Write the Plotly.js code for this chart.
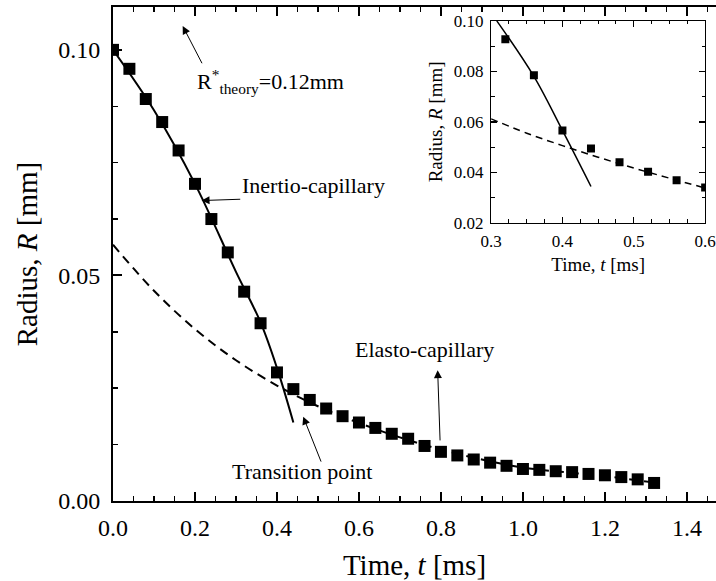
<!DOCTYPE html>
<html><head><meta charset="utf-8">
<script src="https://cdn.plot.ly/plotly-3.0.1.min.js"></script>
<style>html,body{margin:0;padding:0;background:#fff}</style>
</head><body><div id="chart" style="width:716px;height:581px"></div>
<script>
// Main data: measured radius vs time
const timeMain = [0.00,0.04,0.08,0.12,0.16,0.20,0.24,0.28,0.32,0.36,0.40,0.44,0.48,0.52,0.56,0.60,0.64,0.68,0.72,0.76,0.80,0.84,0.88,0.92,0.96,1.00,1.04,1.08,1.12,1.16,1.20,1.24,1.28,1.32];
const radiusMain = [0.1000,0.0958,0.0891,0.0840,0.0777,0.0703,0.0625,0.0551,0.0464,0.0394,0.0285,0.0248,0.0224,0.0205,0.0188,0.0174,0.0162,0.0149,0.0138,0.0122,0.0109,0.0101,0.0092,0.0085,0.0078,0.0071,0.0069,0.0066,0.0064,0.0060,0.0057,0.0053,0.0048,0.0040];
// Inertio-capillary fit (solid)
const inertioT = [0.00,0.10,0.20,0.30,0.36,0.40,0.44];
const inertioR = [0.1000,0.0866,0.0703,0.0508,0.0396,0.0295,0.0174];
// Elasto-capillary fit (dashed)
const elastoT = [0.0,0.1,0.2,0.3,0.4,0.5,0.6,0.7,0.8,0.9,1.0,1.1,1.2,1.32];
const elastoR = [0.0568,0.0466,0.0381,0.0312,0.0256,0.0210,0.0173,0.0141,0.0114,0.0092,0.0074,0.0064,0.0055,0.0041];
// Inset data
const timeInset = [0.32,0.36,0.40,0.44,0.48,0.52,0.56,0.60];
const radiusInset = [0.0927,0.0785,0.0566,0.0494,0.0440,0.0402,0.0369,0.0340];
const insetInertioT = [0.308,0.36,0.40,0.44];
const insetInertioR = [0.100,0.0780,0.0566,0.0344];
const insetElastoT = [0.30,0.35,0.40,0.45,0.50,0.55,0.60];
const insetElastoR = [0.0612,0.0555,0.0506,0.0460,0.0417,0.0377,0.0338];

const FONT = 'Liberation Serif, Times New Roman, serif';

const traces = [
  {x: elastoT, y: elastoR, mode:'lines', line:{color:'#000', width:2, dash:'9px,6px', shape:'spline'}, showlegend:false, hoverinfo:'skip'},
  {x: inertioT, y: inertioR, mode:'lines', line:{color:'#000', width:2, shape:'spline'}, showlegend:false, hoverinfo:'skip'},
  {x: timeMain, y: radiusMain, mode:'markers', marker:{symbol:'square', size:12, color:'#000'}, showlegend:false},
  {x: insetElastoT, y: insetElastoR, xaxis:'x2', yaxis:'y2', mode:'lines', line:{color:'#000', width:1.5, dash:'7px,5px', shape:'spline'}, showlegend:false, hoverinfo:'skip'},
  {x: insetInertioT, y: insetInertioR, xaxis:'x2', yaxis:'y2', mode:'lines', line:{color:'#000', width:1.5, shape:'spline'}, showlegend:false, hoverinfo:'skip'},
  {x: timeInset, y: radiusInset, xaxis:'x2', yaxis:'y2', mode:'markers', marker:{symbol:'square', size:8, color:'#000'}, showlegend:false}
];

const arrowBase = {xref:'x', yref:'y', axref:'x', ayref:'y', text:'', showarrow:true, arrowhead:2, arrowsize:1.6, arrowwidth:1, arrowcolor:'#000', standoff:0, startstandoff:0};
const textBase = {xref:'x', yref:'y', showarrow:false, xanchor:'left', yanchor:'middle', font:{family:FONT, size:22, color:'#000'}};

const layout = {
  width:716, height:581,
  margin:{l:113, r:0, t:7, b:80},
  paper_bgcolor:'#fff', plot_bgcolor:'#fff',
  font:{family:FONT, color:'#000'},
  xaxis:{
    range:[0,1.471], dtick:0.2, tick0:0, tickformat:'.1f',
    ticks:'inside', ticklen:9, tickwidth:2, tickcolor:'#000',
    showline:true, linewidth:2, linecolor:'#000', mirror:'ticks',
    minor:{ticks:'inside', dtick:0.05, ticklen:5, tickwidth:1.5, tickcolor:'#000'},
    showgrid:false, zeroline:false,
    tickfont:{family:FONT, size:24, color:'#000'},
    ticklabelstandoff:4,
    title:{text:'Time, <i>t</i> [ms]', font:{family:FONT, size:29, color:'#000'}, standoff:16}
  },
  yaxis:{
    range:[0,0.1095], dtick:0.05, tick0:0, tickformat:'.2f',
    ticks:'inside', ticklen:9, tickwidth:2, tickcolor:'#000',
    showline:true, linewidth:2, linecolor:'#000',
    minor:{ticks:'inside', dtick:0.0125, ticklen:5, tickwidth:1.5, tickcolor:'#000'},
    showgrid:false, zeroline:false,
    tickfont:{family:FONT, size:24, color:'#000'},
    ticklabelstandoff:6,
    title:{text:'Radius, <i>R</i> [mm]', font:{family:FONT, size:29, color:'#000'}, standoff:12}
  },
  xaxis2:{
    domain:[0.627,0.982], anchor:'y2',
    range:[0.3,0.6], dtick:0.1, tick0:0.3, tickformat:'.1f',
    ticks:'inside', ticklen:6, tickwidth:1.3, tickcolor:'#000',
    showline:true, linewidth:1.3, linecolor:'#000', mirror:'ticks',
    minor:{ticks:'inside', dtick:0.025, ticklen:3.5, tickwidth:1, tickcolor:'#000'},
    showgrid:false, zeroline:false,
    tickfont:{family:FONT, size:17, color:'#000'},
    ticklabelstandoff:2,
    title:{text:'Time, <i>t</i> [ms]', font:{family:FONT, size:19, color:'#000'}, standoff:8}
  },
  yaxis2:{
    domain:[0.563,0.972], anchor:'x2',
    range:[0.02,0.10], dtick:0.02, tick0:0.02, tickformat:'.2f',
    ticks:'inside', ticklen:6, tickwidth:1.3, tickcolor:'#000',
    showline:true, linewidth:1.3, linecolor:'#000', mirror:'ticks',
    minor:{ticks:'inside', dtick:0.01, ticklen:3.5, tickwidth:1, tickcolor:'#000'},
    showgrid:false, zeroline:false,
    tickfont:{family:FONT, size:17, color:'#000'},
    ticklabelstandoff:3,
    title:{text:'Radius, <i>R</i> [mm]', font:{family:FONT, size:19, color:'#000'}, standoff:6}
  },
  annotations:[
    Object.assign({}, arrowBase, {x:0.170, y:0.1053, ax:0.219, ay:0.0967}),
    Object.assign({}, arrowBase, {x:0.216, y:0.0666, ax:0.314, ay:0.0669}),
    Object.assign({}, arrowBase, {x:0.792, y:0.0290, ax:0.798, ay:0.0131}),
    Object.assign({}, arrowBase, {x:0.464, y:0.0187, ax:0.509, ay:0.0084}),
    Object.assign({}, textBase, {x:0.200, y:0.0930, text:'R<sup>*</sup><sub>theory</sub>=0.12mm'}),
    Object.assign({}, textBase, {x:0.310, y:0.0700, text:'Inertio-capillary'}),
    Object.assign({}, textBase, {x:0.585, y:0.0335, text:'Elasto-capillary'}),
    Object.assign({}, textBase, {x:0.285, y:0.0065, text:'Transition point'})
  ]
};

Plotly.newPlot('chart', traces, layout, {staticPlot:true, displayModeBar:false});
</script>
</body></html>
